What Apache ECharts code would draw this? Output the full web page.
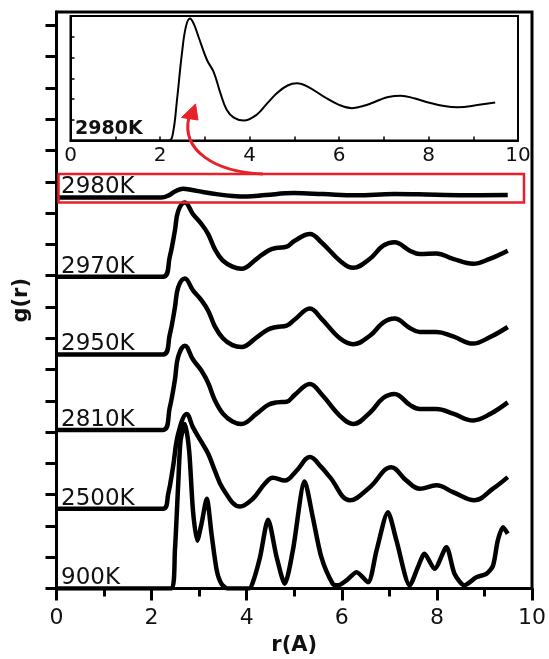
<!DOCTYPE html>
<html><head><meta charset="utf-8">
<script src="https://cdn.jsdelivr.net/npm/echarts@6/dist/echarts.min.js"></script>
<style>html,body{margin:0;padding:0;background:#fff}#c{width:549px;height:659px}</style>
</head><body><div id="c"></div>
<script>
// ---- data ----
const temps = ['900K', '2500K', '2810K', '2950K', '2970K', '2980K'];
const offsets = [0, 2.55, 5.07, 7.48, 9.97, 12.5];
const xTicks = [0, 2, 4, 6, 8, 10];

const r900 = [0, 2.42, 2.49, 2.56, 2.61, 2.7, 2.79, 2.87, 2.96, 3.05, 3.16, 3.26, 3.37, 3.47, 3.6, 4.05, 4.13, 4.28, 4.45, 4.63, 4.8, 4.97, 5.22, 5.39, 5.57, 5.81, 5.92, 6.1, 6.31, 6.55, 6.73, 6.97, 7.15, 7.43, 7.6, 7.74, 7.95, 8.2, 8.37, 8.58, 8.83, 9.04, 9.18, 9.28, 9.39, 9.49];
const g900 = [0, 0, 1.21, 3.35, 4.73, 5.26, 4.4, 2.49, 1.53, 2.07, 2.87, 1.75, 0.58, 0.15, 0, 0, 0.2, 1.0, 2.2, 1.0, 0.15, 1.21, 3.42, 2.28, 1.0, 0.15, 0.1, 0.26, 0.52, 0.2, 1.21, 2.44, 1.53, 0.1, 0.68, 1.11, 0.63, 1.32, 0.47, 0.1, 0.36, 0.47, 0.73, 1.53, 1.96, 1.75];

const r2500 = [0, 2.24, 2.35, 2.45, 2.56, 2.74, 2.87, 3.05, 3.19, 3.33, 3.5, 3.86, 4.13, 4.38, 4.55, 4.8, 5.05, 5.33, 5.57, 5.75, 6.17, 6.59, 7.04, 7.36, 7.64, 7.99, 8.34, 8.79, 9.18, 9.49];
const g2500 = [0, 0, 0.48, 1.33, 2.4, 3.03, 2.6, 2.13, 1.76, 1.22, 0.64, 0.07, 0.32, 0.8, 0.99, 0.9, 1.22, 1.65, 1.33, 1.01, 0.27, 0.69, 1.33, 0.9, 0.64, 0.75, 0.53, 0.27, 0.64, 1.01];

const rLiquid = [0, 2.24, 2.38, 2.49, 2.56, 2.7, 2.87, 3.05, 3.19, 3.33, 3.5, 3.7, 3.89, 4.21, 4.45, 4.63, 4.84, 5.01, 5.33, 5.57, 5.96, 6.24, 6.59, 6.87, 7.11, 7.43, 7.64, 7.99, 8.34, 8.76, 9.11, 9.49];
const g2810 = [0, 0, 0.7, 1.6, 2.35, 2.69, 2.25, 1.89, 1.5, 0.95, 0.52, 0.27, 0.19, 0.52, 0.8, 0.88, 0.9, 1.12, 1.47, 1.15, 0.45, 0.19, 0.55, 1.02, 1.15, 0.8, 0.67, 0.67, 0.52, 0.3, 0.5, 0.88];
const g2950 = [0, 0, 0.62, 1.5, 2.15, 2.43, 2.05, 1.73, 1.4, 0.9, 0.52, 0.3, 0.24, 0.55, 0.8, 0.88, 0.92, 1.12, 1.47, 1.15, 0.52, 0.33, 0.6, 1.02, 1.15, 0.85, 0.72, 0.72, 0.58, 0.35, 0.55, 0.88];
const g2970 = [0, 0, 0.62, 1.47, 2.1, 2.37, 2.0, 1.68, 1.36, 0.88, 0.51, 0.32, 0.25, 0.57, 0.83, 0.92, 0.96, 1.15, 1.36, 1.1, 0.51, 0.28, 0.57, 0.99, 1.1, 0.83, 0.72, 0.74, 0.57, 0.41, 0.57, 0.83];

const r2980 = [0, 2.2, 2.35, 2.5, 2.66, 2.85, 3.1, 3.4, 3.7, 4.0, 4.4, 5.0, 5.6, 6.3, 7.1, 7.6, 8.6, 9.49];
const g2980 = [0, 0, 0.06, 0.2, 0.28, 0.24, 0.17, 0.1, 0.05, 0.03, 0.08, 0.14, 0.11, 0.07, 0.11, 0.1, 0.07, 0.08];

// inset (2980K magnified)
const rInset = [0, 2.2, 2.29, 2.38, 2.49, 2.58, 2.67, 2.76, 2.86, 3.05, 3.2, 3.35, 3.49, 3.65, 3.87, 4.16, 4.4, 4.61, 4.85, 5.06, 5.3, 5.67, 6.0, 6.29, 6.6, 6.9, 7.1, 7.38, 7.7, 8.02, 8.35, 8.65, 9.13, 9.49];
const gInset = [0, 0, 0.36, 1.96, 4.2, 5.5, 5.88, 5.6, 5.0, 3.88, 3.3, 2.28, 1.48, 1.1, 0.96, 1.24, 1.8, 2.28, 2.65, 2.76, 2.6, 2.1, 1.72, 1.56, 1.7, 1.95, 2.1, 2.16, 2.02, 1.82, 1.66, 1.6, 1.72, 1.83];

const mainR = [r900, r2500, rLiquid, rLiquid, rLiquid, r2980];
const mainG = [g900, g2500, g2810, g2950, g2970, g2980];

// ---- chart ----
const chart = echarts.init(document.getElementById('c'), null, {renderer: 'canvas'});
const FONT = 'DejaVu Sans';
const yMainTicks = [];
for (let i = 0; i <= 18; i++) yMainTicks.push(i);

const series = temps.map((t, i) => ({
  type: 'line', name: t, xAxisIndex: 0, yAxisIndex: 0,
  data: mainR[i].map((r, k) => [r, mainG[i][k] + offsets[i]]),
  showSymbol: false, smooth: i === 0 ? 0.25 : 0.4,
  lineStyle: {color: '#000', width: 4.5}, z: 3
}));
series.push({
  type: 'line', name: 'inset', xAxisIndex: 1, yAxisIndex: 1,
  data: rInset.map((r, k) => [r, gInset[k]]),
  showSymbol: false, smooth: 0.4,
  lineStyle: {color: '#000', width: 2}, z: 5
});

chart.setOption({
  animation: false,
  backgroundColor: '#fff',
  grid: [
    {left: 56.5, right: 17, top: 12, bottom: 70.5, show: true, borderColor: '#000', borderWidth: 3, backgroundColor: 'transparent', outerBoundsMode: 'none', containLabel: false},
    {left: 70.5, right: 31, top: 16, bottom: 518.5, show: true, borderColor: '#000', borderWidth: 2, backgroundColor: '#fff', outerBoundsMode: 'none', containLabel: false, z: 4}
  ],
  xAxis: [
    {type: 'value', gridIndex: 0, min: 0, max: 10, interval: 2,
     axisLine: {show: true, onZero: false, lineStyle: {color: '#000', width: 3}},
     axisTick: {show: true, inside: false, length: 12, lineStyle: {color: '#000', width: 3}},
     minorTick: {show: true, splitNumber: 2, length: 8, lineStyle: {color: '#000', width: 3}},
     splitLine: {show: false}, minorSplitLine: {show: false},
     axisLabel: {color: '#111', fontSize: 22, fontFamily: FONT, margin: 19},
     name: 'r(A)', nameLocation: 'middle', nameGap: 47, nameMoveOverlap: false,
     nameTextStyle: {color: '#111', fontSize: 21, fontWeight: 'bold', fontFamily: FONT}},
    {type: 'value', gridIndex: 1, min: 0, max: 10, interval: 2,
     axisLine: {show: true, onZero: false, lineStyle: {color: '#000', width: 2}},
     axisTick: {show: true, inside: true, length: 4, lineStyle: {color: '#000', width: 1.5}},
     minorTick: {show: true, splitNumber: 2, length: 4, lineStyle: {color: '#000', width: 1.5}},
     splitLine: {show: false}, minorSplitLine: {show: false},
     axisLabel: {color: '#111', fontSize: 20, fontFamily: FONT, margin: 5}, z: 6}
  ],
  yAxis: [
    {type: 'value', gridIndex: 0, min: 0, max: 18.43,
     axisLine: {show: true, onZero: false, lineStyle: {color: '#000', width: 3}},
     axisTick: {show: true, inside: false, length: 11, customValues: yMainTicks, lineStyle: {color: '#000', width: 3}},
     axisLabel: {show: false}, splitLine: {show: false},
     name: 'g(r)', nameLocation: 'middle', nameGap: 24, nameMoveOverlap: false,
     nameTextStyle: {color: '#111', fontSize: 21, fontWeight: 'bold', fontFamily: FONT}},
    {type: 'value', gridIndex: 1, min: 0, max: 6, interval: 1,
     axisLine: {show: true, onZero: false, lineStyle: {color: '#000', width: 2}},
     axisTick: {show: true, inside: true, length: 4, lineStyle: {color: '#000', width: 1.5}},
     axisLabel: {show: false}, splitLine: {show: false}, z: 6}
  ],
  series: series
});

// labels, box and arrow placed via the axes
const gfx = [];
temps.forEach((t, i) => {
  const p = chart.convertToPixel({gridIndex: 0}, [0.1, offsets[i]]);
  gfx.push({type: 'text', x: 61, y: p[1] - 10, z: 10,
    style: {text: t, fill: '#111', font: '23px "DejaVu Sans"', textVerticalAlign: 'middle', textAlign: 'left'}});
});
const pi = chart.convertToPixel({gridIndex: 1}, [0.1, 0]);
gfx.push({type: 'text', x: 75, y: pi[1] - 11, z: 10,
  style: {text: '2980K', fill: '#111', font: 'bold 19px "DejaVu Sans"', textVerticalAlign: 'middle', textAlign: 'left'}});
gfx.push({type: 'rect', z: 9, shape: {x: 58.5, y: 174, width: 465.5, height: 28.5},
  style: {fill: 'none', stroke: '#e8202a', lineWidth: 2.5}});
gfx.push({type: 'bezierCurve', z: 9,
  shape: {x1: 263, y1: 174, cpx1: 214, cpy1: 172, cpx2: 181, cpy2: 150, x2: 189, y2: 117},
  style: {fill: 'none', stroke: '#e8202a', lineWidth: 3}});
gfx.push({type: 'polygon', z: 9,
  shape: {points: [[195.5, 104], [181.5, 117.5], [198, 120]]},
  style: {fill: '#e8202a', stroke: '#e8202a', lineWidth: 1}});
chart.setOption({graphic: gfx});
</script>
</body></html>
